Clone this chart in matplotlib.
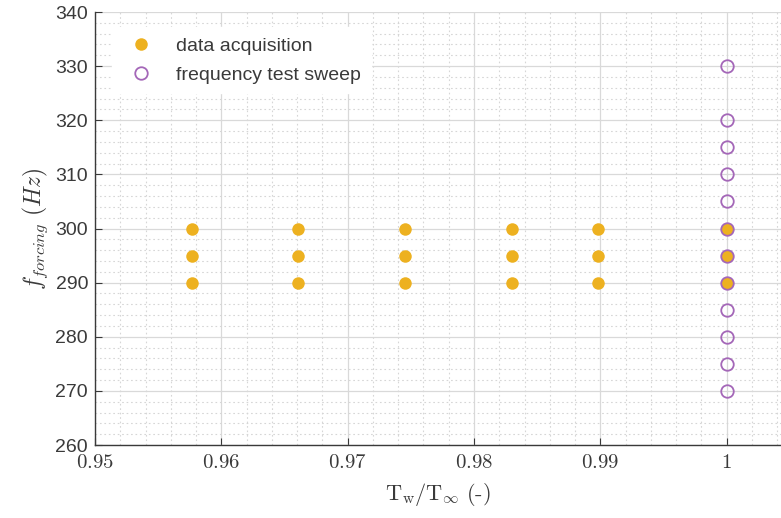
import numpy as np
import matplotlib
matplotlib.use("Agg")
import matplotlib.pyplot as plt
from matplotlib.ticker import MultipleLocator

# temperature ratios and forcing frequencies for the measurement campaign
acq_ratio = [0.9577, 0.9661, 0.9745, 0.9830, 0.9898, 1.0]
acq_freq = [290, 295, 300]

sweep_ratio = 1.0
sweep_freq = [270, 275, 280, 285, 290, 295, 300, 305, 310, 315, 320, 330]

x_ticks = [0.95, 0.96, 0.97, 0.98, 0.99, 1.0]
x_labels = ["0.95", "0.96", "0.97", "0.98", "0.99", "1"]
y_ticks = [260, 270, 280, 290, 300, 310, 320, 330, 340]

orange = "#EDB120"
purple = "#A467B8"
dark = "#3a3a3a"

plt.rcParams["mathtext.fontset"] = "cm"
plt.rcParams["font.family"] = ["Liberation Sans", "DejaVu Sans"]

fig = plt.figure(figsize=(7.81, 5.18), dpi=100)
ax = fig.add_axes([0.1216, 0.1409, 0.8784, 0.8359])

# every acquisition point is a (ratio, frequency) pair
ax_x = np.repeat(acq_ratio, len(acq_freq))
ax_y = np.tile(acq_freq, len(acq_ratio))
ax.plot(ax_x, ax_y, "o", color=orange, markersize=9, markeredgewidth=0,
        label="data acquisition", zorder=3)
ax.plot([sweep_ratio] * len(sweep_freq), sweep_freq, "o", markerfacecolor="none",
        markeredgecolor=purple, markersize=9, markeredgewidth=1.3,
        label="frequency test sweep", zorder=4)

ax.set_xlim(0.95, 1.0043)
ax.set_ylim(260, 340)
ax.set_xticks(x_ticks)
ax.set_xticklabels(["$" + s + "$" for s in x_labels], fontsize=15)
ax.set_yticks(y_ticks)
ax.xaxis.set_minor_locator(MultipleLocator(0.002))
ax.yaxis.set_minor_locator(MultipleLocator(2))

ax.grid(True, which="major", color="#d9d9d9", linewidth=0.9)
ax.grid(True, which="minor", color="#d6d6d6", linestyle=(0, (1.5, 2.5)), linewidth=0.8)
ax.set_axisbelow(True)

for s in ["top", "right"]:
    ax.spines[s].set_visible(False)
for s in ["left", "bottom"]:
    ax.spines[s].set_color(dark)
    ax.spines[s].set_linewidth(1.0)

ax.tick_params(which="major", direction="in", length=5, color=dark)
ax.tick_params(which="minor", length=0)
ax.tick_params(axis="y", labelsize=14, labelcolor=dark, pad=5)
ax.tick_params(axis="x", labelcolor=dark, pad=6)

ax.set_xlabel(r"$\mathrm{T_w/T_\infty}$ $\mathrm{(\text{-})}$", fontsize=16, color=dark, labelpad=6)
ax.set_ylabel(r"$f_{forcing}\ (Hz)$", fontsize=17, color=dark, labelpad=4)

leg = ax.legend(loc="upper left", bbox_to_anchor=(0.011, 0.987), frameon=True,
                fontsize=14, handletextpad=0.8, borderpad=0.5, labelspacing=0.58,
                fancybox=False, framealpha=1.0, edgecolor="white")
for t in leg.get_texts():
    t.set_color(dark)

fig.savefig("out.png", dpi=100)
